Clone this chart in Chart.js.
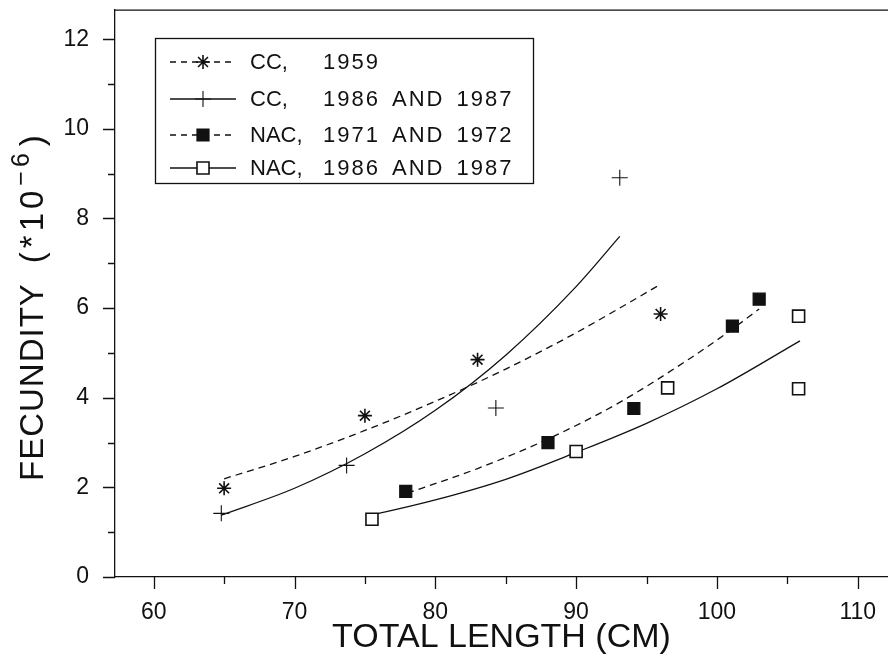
<!DOCTYPE html>
<html><head><meta charset="utf-8">
<script src="https://cdn.jsdelivr.net/npm/chart.js@4.4.1/dist/chart.umd.min.js"></script>
<style>html,body{margin:0;padding:0;background:#fff;overflow:hidden}#wrap{width:888px;height:667px;position:relative}</style>
</head><body><div id="wrap"><canvas id="c"></canvas></div>
<script>
// ---- observed data points ----
const cc1959X = [65, 75, 83, 96];
const cc1959Y = [1.98, 3.6, 4.85, 5.87];
const cc8687X = [64.8, 73.7, 84.3, 93.1];
const cc8687Y = [1.42, 2.49, 3.77, 8.91];
const nac7172X = [77.9, 88.0, 94.1, 101.1, 103.0];
const nac7172Y = [1.91, 3.0, 3.76, 5.6, 6.2];
const nac8687X = [75.5, 90.0, 96.5, 105.8, 105.8];
const nac8687Y = [1.29, 2.8, 4.22, 5.82, 4.2];

// ---- fitted curves ----
const cc1959FitX = [65, 70, 75, 80, 85, 90, 96];
const cc1959FitY = [2.19, 2.69, 3.27, 3.92, 4.64, 5.45, 6.53];
const cc8687FitX = [64.8, 70, 75, 80, 85, 90, 93.1];
const cc8687FitY = [1.38, 1.98, 2.75, 3.72, 4.95, 6.48, 7.6];
const nac7172FitX = [78, 83, 88, 93, 98, 101, 103];
const nac7172FitY = [1.87, 2.42, 3.08, 3.88, 4.86, 5.51, 5.98];
const nac8687FitX = [75.5, 80, 85, 90, 95, 100, 105.9];
const nac8687FitY = [1.38, 1.72, 2.18, 2.78, 3.43, 4.2, 5.27];

// ---- labels ----
const seriesLabels = ['CC, 1959', 'CC, 1986 AND 1987', 'NAC, 1971 AND 1972', 'NAC, 1986 AND 1987'];
const legendNames = ['CC,', 'CC,', 'NAC,', 'NAC,'];
const legendYears = ['1959', '1986 AND 1987', '1971 AND 1972', '1986 AND 1987'];
const xTitle = 'TOTAL LENGTH (CM)';
const yTitleMain = 'FECUNDITY';
const yTitleUnit = '(*10';
const yTitleExp = '\u22126';
const yTitleClose = ')';
const xMajorStep = 10, xMinorStep = 5, yMajorStep = 2, yMinorStep = 1;

const INK = '#111';
const FONT = '"Liberation Sans", Arial, sans-serif';
const pts = (xs, ys) => xs.map((x, i) => ({x: x, y: ys[i]}));

const markerStyles = [
  {pointStyle: 'star', radius: 7, borderWidth: 1.6, fill: INK},
  {pointStyle: 'cross', radius: 8, borderWidth: 1.1, fill: INK},
  {pointStyle: 'rect', radius: 8.5, borderWidth: 1.2, fill: INK},
  {pointStyle: 'rect', radius: 8.5, borderWidth: 1.6, fill: '#fff'}
];
const lineDash = [[7, 5], [], [7, 5], []];

const fitSets = [pts(cc1959FitX, cc1959FitY), pts(cc8687FitX, cc8687FitY), pts(nac7172FitX, nac7172FitY), pts(nac8687FitX, nac8687FitY)];
const obsSets = [pts(cc1959X, cc1959Y), pts(cc8687X, cc8687Y), pts(nac7172X, nac7172Y), pts(nac8687X, nac8687Y)];

const datasets = [];
fitSets.forEach((d, i) => datasets.push({
  label: seriesLabels[i] + ' fit', data: d, showLine: true, borderColor: INK, borderWidth: 1.3,
  borderDash: lineDash[i], pointRadius: 0, cubicInterpolationMode: 'monotone', order: 2, fill: false
}));
obsSets.forEach((d, i) => datasets.push({
  label: seriesLabels[i], data: d, showLine: false, pointStyle: markerStyles[i].pointStyle,
  pointRadius: markerStyles[i].radius, pointBorderWidth: markerStyles[i].borderWidth,
  pointBorderColor: INK, pointBackgroundColor: markerStyles[i].fill, order: 1
}));

const frameAndTicks = {
  id: 'frameAndTicks',
  afterDraw(chart) {
    const ctx = chart.ctx, a = chart.chartArea;
    const xs = chart.scales.x, ys = chart.scales.y;
    ctx.save();
    ctx.strokeStyle = INK; ctx.lineWidth = 1.3;
    ctx.beginPath();
    ctx.moveTo(a.left, a.top); ctx.lineTo(chart.width, a.top);
    xs.ticks.forEach(t => {
      const px = Math.round(xs.getPixelForValue(t.value)) + 0.5;
      const len = (t.value % xMajorStep === 0) ? 12 : 7;
      ctx.moveTo(px, a.bottom); ctx.lineTo(px, a.bottom + len);
    });
    ys.ticks.forEach(t => {
      const py = Math.round(ys.getPixelForValue(t.value)) + 0.5;
      const len = (t.value % yMajorStep === 0) ? 12 : 7;
      ctx.moveTo(a.left - len, py); ctx.lineTo(a.left, py);
    });
    ctx.stroke();

    // y axis title with superscript exponent
    ctx.save();
    ctx.translate(43, 481);
    ctx.rotate(-Math.PI / 2);
    ctx.fillStyle = INK; ctx.textBaseline = 'alphabetic'; ctx.textAlign = 'left';
    try { ctx.letterSpacing = '1px'; } catch (e) {}
    ctx.font = '33px ' + FONT;
    let u = 0;
    ctx.fillText(yTitleMain, u, 0); u += ctx.measureText(yTitleMain).width + 20;
    try { ctx.letterSpacing = '4px'; } catch (e) {}
    ctx.fillText(yTitleUnit, u, 0); u += ctx.measureText(yTitleUnit).width + 1;
    ctx.font = '25px ' + FONT;
    ctx.fillText(yTitleExp, u, -14); u += ctx.measureText(yTitleExp).width + 3;
    ctx.font = '33px ' + FONT;
    ctx.fillText(yTitleClose, u, 0);
    ctx.restore();

    // legend
    const bx = 155, by = 38, bw = 378, bh = 145;
    ctx.fillStyle = '#fff';
    ctx.fillRect(bx, by, bw, bh);
    ctx.strokeRect(bx + 0.5, by + 0.5, bw, bh);
    const rowsY = [62, 99, 135, 168];
    rowsY.forEach((ry, i) => {
      ctx.save();
      ctx.strokeStyle = INK; ctx.lineWidth = 1.3;
      ctx.setLineDash(lineDash[i].length ? [6, 5] : []);
      ctx.beginPath(); ctx.moveTo(170, ry); ctx.lineTo(236, ry); ctx.stroke();
      ctx.restore();
      ctx.save();
      ctx.strokeStyle = INK; ctx.fillStyle = markerStyles[i].fill;
      ctx.lineWidth = markerStyles[i].borderWidth;
      Chart.helpers.drawPoint(ctx, {pointStyle: markerStyles[i].pointStyle, radius: markerStyles[i].radius,
        rotation: 0, borderWidth: markerStyles[i].borderWidth}, 203, ry);
      ctx.restore();
      ctx.save();
      ctx.fillStyle = INK; ctx.font = '22px ' + FONT;
      ctx.textBaseline = 'middle'; ctx.textAlign = 'left';
      ctx.fillText(legendNames[i], 250, ry + 1);
      try { ctx.letterSpacing = '2px'; ctx.wordSpacing = '4px'; } catch (e) {}
      ctx.fillText(legendYears[i], 323, ry + 1);
      ctx.restore();
    });
    ctx.restore();
  }
};

new Chart(document.getElementById('c'), {
  type: 'scatter',
  data: {datasets: datasets},
  options: {
    responsive: true, maintainAspectRatio: false, animation: false,
    layout: {padding: {top: 8, right: 0, bottom: 0, left: 0}},
    plugins: {legend: {display: false}, tooltip: {enabled: false}},
    scales: {
      x: {
        type: 'linear', min: 57.25, max: 112.15,
        afterFit: s => { s.height = 90; s.paddingRight = 0; s.paddingLeft = 0; },
        grid: {display: false, drawTicks: false},
        border: {display: true, color: INK, width: 1.3},
        ticks: {stepSize: xMinorStep, includeBounds: false, autoSkip: false, maxRotation: 0, padding: 22,
          color: INK, font: {family: FONT, size: 23},
          callback: v => (v % xMajorStep === 0 ? String(v) : '')},
        title: {display: true, text: xTitle, color: INK, padding: {top: 0, bottom: 9},
          font: {family: FONT, size: 34}}
      },
      y: {
        type: 'linear', min: 0, max: 12.65,
        afterFit: s => { s.width = 115; s.paddingTop = 0; s.paddingBottom = 0; },
        grid: {display: false, drawTicks: false},
        border: {display: true, color: INK, width: 1.3},
        ticks: {stepSize: yMinorStep, includeBounds: false, autoSkip: false, padding: 26,
          color: INK, font: {family: FONT, size: 23},
          callback: v => (v % yMajorStep === 0 ? String(v) : '')},
        title: {display: false, text: yTitleMain + ' ' + yTitleUnit + yTitleExp + yTitleClose}
      }
    }
  },
  plugins: [frameAndTicks, {
    id: 'fullWidth',
    afterLayout(chart) {
      // extend the plotting area to the right edge of the canvas (the frame is cut there)
      const a = chart.chartArea, xs = chart.scales.x;
      const extra = chart.width - a.right;
      if (extra > 0) {
        a.right += extra; a.width = a.right - a.left;
        xs.right += extra; xs.width += extra;
        xs.configure();
      }
    }
  }]
});
</script>
</body></html>
